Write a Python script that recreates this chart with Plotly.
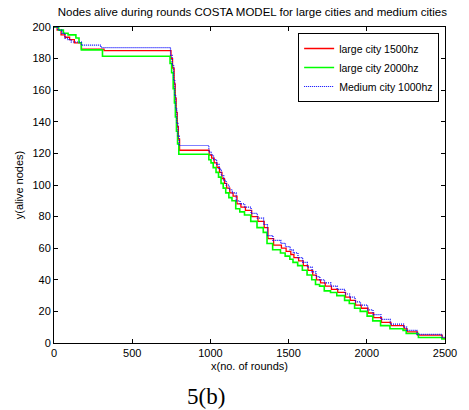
import plotly.graph_objects as go

# ---- data ----
rounds_r = [0, 20, 45, 70, 100, 130, 175, 320, 748, 758, 768, 775, 781, 788, 795, 803,
            992, 1008, 1024, 1042, 1058, 1074, 1090, 1104, 1124, 1145, 1170, 1195, 1224, 1264, 1304, 1344,
            1368, 1404, 1454, 1484, 1514, 1534, 1564, 1594, 1624, 1654, 1678, 1704, 1734, 1774, 1814, 1864,
            1894, 1928, 1964, 2008, 2044, 2094, 2154, 2238, 2258, 2324, 2482, 2500]
nodes_r = [200, 198, 195, 193.5, 192, 190, 186, 185, 180, 174, 164, 155, 146, 137, 129, 122,
           119, 117, 114, 111, 108, 104, 101, 98, 95, 93, 88, 86, 84, 80, 77, 73,
           66, 62, 60, 58, 56, 54, 52, 49, 46, 43, 40, 38, 36, 34, 32, 29,
           27, 24, 22, 19, 16, 13, 11, 9, 7, 5, 3, 3]

rounds_g = [0, 30, 60, 90, 140, 160, 175, 310, 742, 752, 762, 770, 776, 783, 790, 798,
            990, 1004, 1018, 1036, 1052, 1068, 1082, 1098, 1118, 1138, 1162, 1188, 1218, 1258, 1298, 1338,
            1362, 1398, 1448, 1478, 1508, 1528, 1558, 1588, 1618, 1648, 1672, 1698, 1728, 1768, 1808, 1858,
            1888, 1922, 1958, 2002, 2038, 2088, 2148, 2232, 2252, 2330, 2480, 2500]
nodes_g = [200, 198, 196, 195, 193, 190, 185.5, 181.5, 177, 171, 161, 152, 143, 134, 126, 119.5,
           116, 114, 111, 108, 105, 101, 98, 95, 92, 90, 85, 83, 81, 77, 73, 70,
           63, 59, 57, 55, 53, 51, 49, 46, 43, 40, 37, 36, 33, 32, 30, 27,
           25, 22, 20, 17, 14, 11, 9, 8, 6, 3.5, 2.5, 2.5]

rounds_b = [0, 25, 50, 70, 90, 110, 175, 300, 745, 755, 765, 772, 778, 785, 792, 800,
            990, 1005, 1020, 1040, 1055, 1070, 1085, 1100, 1120, 1140, 1165, 1190, 1220, 1260, 1300, 1340,
            1365, 1400, 1450, 1480, 1510, 1530, 1560, 1590, 1620, 1650, 1675, 1700, 1730, 1770, 1810, 1860,
            1890, 1925, 1960, 2005, 2040, 2090, 2150, 2235, 2255, 2320, 2480, 2500]
nodes_b = [200, 198, 196, 193, 192, 190.5, 188.5, 187, 182, 176, 166, 157, 148, 139, 131, 125,
           121, 119, 116, 113, 110, 106, 103, 100, 97, 95, 90, 88, 86, 82, 79, 75,
           68, 65, 63, 61, 59, 57, 54, 51, 48, 45, 42, 40, 38, 36, 34, 31,
           29, 26, 24, 21, 18, 15, 12, 10, 8, 5.5, 3.5, 3.5]

series_names = ["large city 1500hz", "large city 2000hz", "Medium city 1000hz"]
x_ticks = [0, 500, 1000, 1500, 2000, 2500]
y_ticks = [0, 20, 40, 60, 80, 100, 120, 140, 160, 180, 200]

FONT = "Liberation Sans, Arial, sans-serif"

fig = go.Figure()
fig.add_trace(go.Scatter(x=rounds_r, y=nodes_r, name=series_names[0], mode="lines",
                         line=dict(color="#ff0000", width=1.3, shape="hv")))
fig.add_trace(go.Scatter(x=rounds_g, y=nodes_g, name=series_names[1], mode="lines",
                         line=dict(color="#00ff00", width=1.6, shape="hv")))
fig.add_trace(go.Scatter(x=rounds_b, y=nodes_b, name=series_names[2], mode="lines",
                         line=dict(color="#0000ff", width=1.2, shape="hv", dash="1px,1px")))

axis_common = dict(showline=True, linecolor="black", linewidth=1, mirror="ticks",
                   ticks="inside", ticklen=4, tickcolor="black", tickwidth=1,
                   showgrid=False, zeroline=False,
                   tickfont=dict(family=FONT, size=11, color="black"))

fig.update_layout(
    width=469, height=410,
    margin=dict(l=54, r=13, t=27, b=67),
    paper_bgcolor="white", plot_bgcolor="white",
    font=dict(family=FONT, size=11, color="black"),
    title=dict(text="Nodes alive during rounds COSTA MODEL for large cities and medium cities",
               x=0.538, xref="container", xanchor="center",
               y=1 - 12 / 410, yref="container", yanchor="middle",
               font=dict(family=FONT, size=11.5, color="black")),
    xaxis=dict(range=[0, 2500], tickvals=x_ticks, **axis_common,
               title=dict(text="x(no. of rounds)", standoff=4,
                          font=dict(family=FONT, size=11, color="black"))),
    yaxis=dict(range=[0, 200], tickvals=y_ticks, **axis_common,
               title=dict(text="y(alive nodes)", standoff=6,
                          font=dict(family=FONT, size=11, color="black"))),
    legend=dict(x=0.985, y=0.981, xanchor="right", yanchor="top",
                bgcolor="white", bordercolor="black", borderwidth=1,
                font=dict(family=FONT, size=10.5, color="black"),
                tracegroupgap=0, itemwidth=30),
    showlegend=True,
    annotations=[dict(text="5(b)", xref="paper", yref="paper", x=0.39, y=-0.168,
                      xanchor="center", yanchor="middle", showarrow=False,
                      font=dict(family="Liberation Serif, Times New Roman, serif", size=23, color="black"))],
)

fig.write_html("out.html")
